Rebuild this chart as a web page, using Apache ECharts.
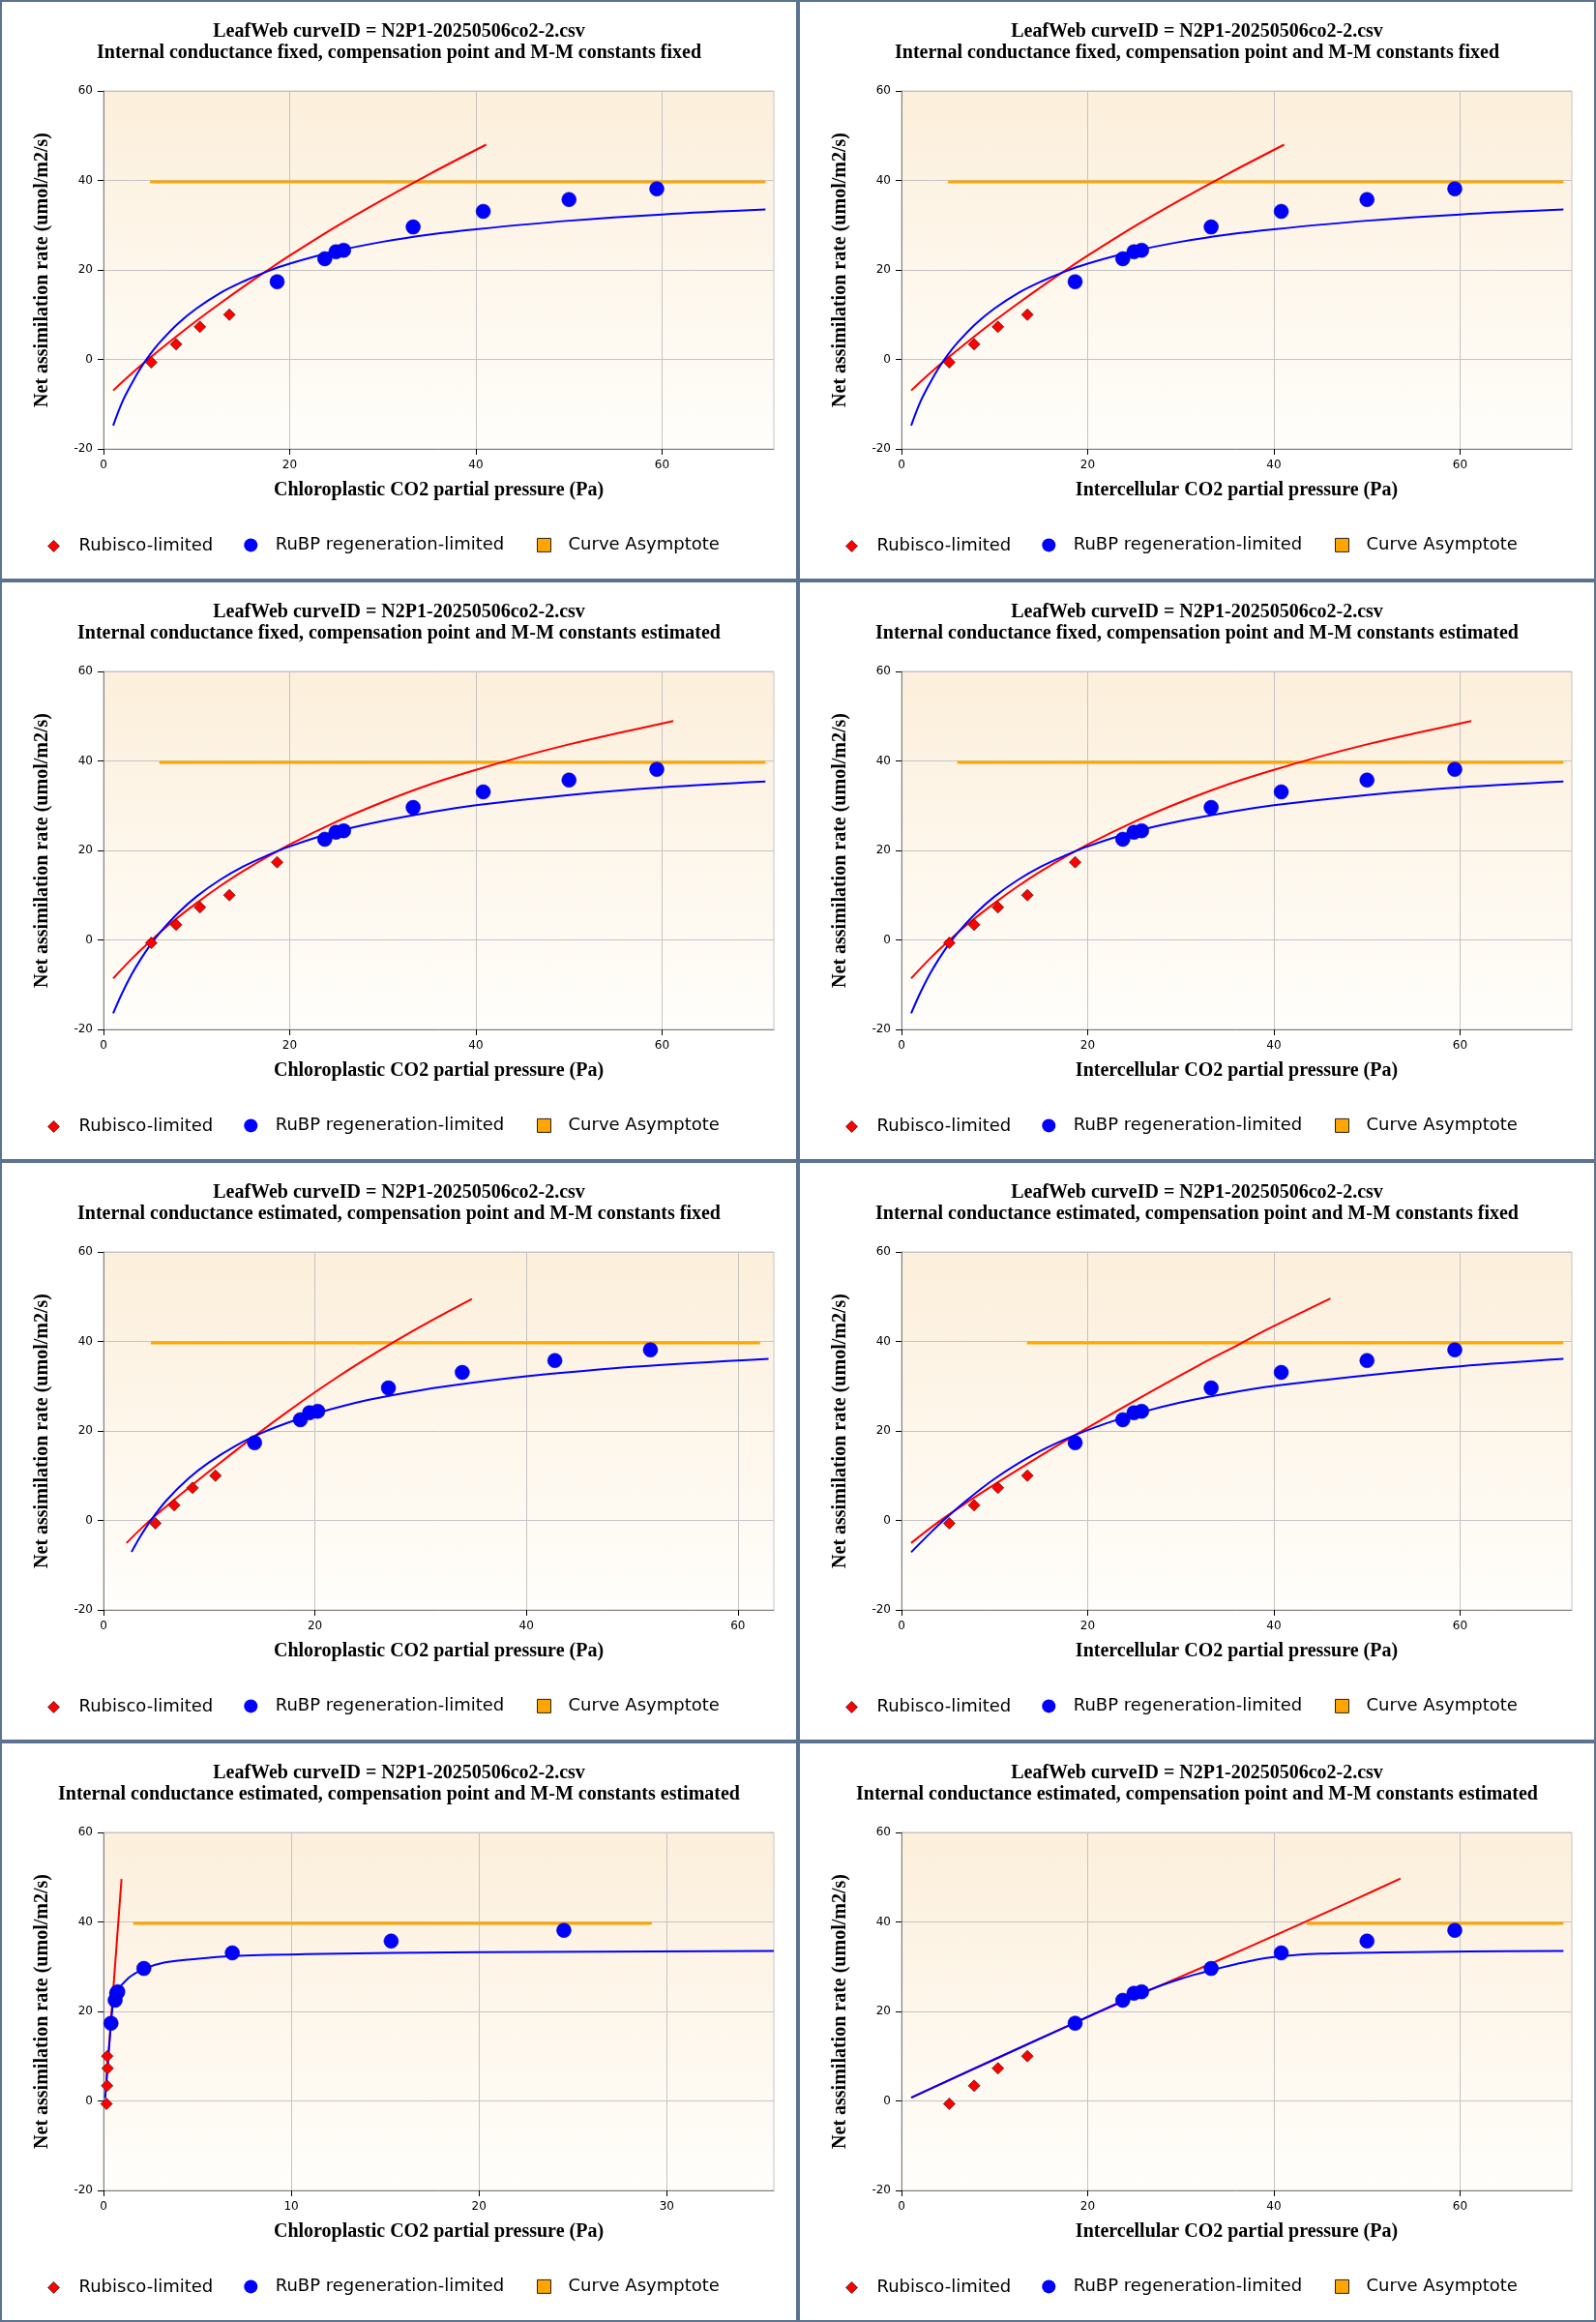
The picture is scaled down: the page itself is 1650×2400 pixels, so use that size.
<!DOCTYPE html>
<html>
<head>
<meta charset="utf-8">
<title>LeafWeb A/C fits</title>
<script src="https://cdn.jsdelivr.net/npm/echarts@6/dist/echarts.min.js"></script>
<style>
    body { margin: 0; background: #fff; }
    #wrap { width: 1650px; height: 2400px; }
    .panel { float: left; width: 825px; height: 600px; box-sizing: border-box; border: 2px solid #5b7391; }
</style>
</head>
<body>
<div id="wrap"></div>
<script type="text/javascript">
    // measured points (same file in every panel)
    var ciPts = [5.13, 7.8, 10.36, 13.52, 18.65, 23.77, 24.97, 25.79, 33.26, 40.79, 50.0, 59.43];
    var ccEstFixPts = [4.91, 6.69, 8.42, 10.59, 14.29, 18.62, 19.49, 20.26, 26.95, 33.93, 42.69, 51.73];
    var ccEstEstPts = [0.16, 0.19, 0.22, 0.2, 0.40, 0.62, 0.70, 0.76, 2.15, 6.86, 15.32, 24.52];
    var aPts = [-0.66, 3.39, 7.28, 10.0, 17.37, 22.5, 24.07, 24.4, 29.6, 33.08, 35.73, 38.13];

    // fitted curves, [x, A]
    var fixFixRub = [[1.04, -6.95], [3, -3.2], [5, 0.36], [7.5, 4.6], [10, 8.65], [12.5, 12.5], [15, 16.2],
        [17.5, 19.75], [20, 23.2], [25, 29.7], [30, 35.7], [35, 41.4], [41.1, 48.0]];
    var fixFixRubp = [[1.04, -14.8], [2, -9.6], [3, -5.5], [4, -1.9], [5, 1.1], [6, 3.7], [8, 8.0], [10, 11.4],
        [12.5, 14.8], [15, 17.4], [17.5, 19.6], [20, 21.4], [25, 24.2], [30, 26.3], [35, 27.9], [40, 29.1],
        [50, 31.0], [60, 32.4], [71.1, 33.5]];
    var fixEstRub = [[1.04, -8.6], [3, -4.3], [5, -0.34], [7.5, 4.2], [10, 8.25], [12.5, 12.0], [15, 15.4],
        [20, 21.3], [25, 26.4], [30, 30.8], [35, 34.7], [40, 38.0], [45, 41.0], [50, 43.7], [55, 46.1], [61.2, 48.9]];
    var fixEstRubp = [[1.04, -16.4], [2, -11.9], [3, -7.8], [4, -4.3], [5, -1.2], [6, 1.5], [8, 6.0], [10, 9.7],
        [12.5, 13.4], [15, 16.4], [17.5, 18.8], [20, 20.9], [25, 24.2], [30, 26.6], [35, 28.5], [40, 30.1],
        [50, 32.4], [60, 34.1], [71.1, 35.4]];
    var estFixCcRub = [[2.17, -5.05], [4, -0.84], [6, 3.26], [8, 7.16], [10, 10.96], [12, 14.68], [14, 18.32],
        [16, 21.86], [18, 25.3], [20, 28.64], [22, 31.84], [24, 34.9], [26, 37.82], [28, 40.62], [30, 43.32],
        [32, 45.92], [34.84, 49.47]];
    var estFixCcRubp = [[2.65, -7.05], [3.5, -3.5], [4.5, 0.1], [6, 4.6], [8, 9.3], [10, 13.0], [12.5, 16.7],
        [15, 19.6], [17.5, 21.9], [20, 23.85], [25, 26.9], [30, 29.1], [35, 30.8], [40, 32.2], [50, 34.3], [62.9, 36.1]];
    var estFixCiRub = [[1.04, -5.05], [4, -0.31], [8, 5.37], [12, 10.69], [18, 18.31], [25, 26.7], [32, 34.75],
        [36.4, 39.5], [39, 42.4], [46.07, 49.6]];
    var estFixCiRubp = [[1.04, -7.1], [3, -3.0], [4.5, 0], [7, 4.5], [10, 9.3], [14, 14.5], [18, 18.5], [22, 21.7],
        [26, 24.3], [30, 26.4], [35, 28.4], [40, 30.05], [50, 32.45], [60, 34.45], [71.1, 36.1]];
    var estEstCcRub = [[0.12, 2.6], [0.4, 18.2], [0.96, 49.6]];
    var estEstCcRubp = [[0.09, 0.6], [0.4, 17.3], [0.52, 22.1], [0.69, 24.3], [1.34, 27.5], [2.15, 29.5],
        [3.23, 30.9], [4.78, 31.7], [6.84, 32.4], [10.77, 32.8], [20, 33.25], [35.7, 33.5]];
    var estEstCiRub = [[1.04, 0.74], [10, 9.3], [17.2, 16.15], [25, 23.3], [33.15, 30.6], [41, 37.8], [49.2, 45.5], [53.6, 49.7]];
    var estEstCiRubp = [[1.04, 0.74], [10, 9.3], [18.65, 17.5], [23.7, 22.3], [26, 24.3], [28, 25.9], [30, 27.3],
        [32, 28.5], [34, 29.6], [36, 30.6], [38, 31.5], [40, 32.15], [42, 32.55], [45, 32.9], [52, 33.2], [61, 33.4], [71.1, 33.5]];

    var asymA = 39.7;
    var fileTitle = 'LeafWeb curveID = N2P1-20250506co2-2.csv';
    var ccName = 'Chloroplastic CO2 partial pressure (Pa)';
    var ciName = 'Intercellular CO2 partial pressure (Pa)';
    var fitFixFix = 'Internal conductance fixed, compensation point and M-M constants fixed';
    var fitFixEst = 'Internal conductance fixed, compensation point and M-M constants estimated';
    var fitEstFix = 'Internal conductance estimated, compensation point and M-M constants fixed';
    var fitEstEst = 'Internal conductance estimated, compensation point and M-M constants estimated';

    // one entry per panel, left to right, top to bottom
    var panels = [
        {sub: fitFixFix, xName: ccName, x: ciPts, nRub: 4, rub: fixFixRub, rubp: fixFixRubp, asym: [5.0, 71.1], xMax: 72, step: 20},
        {sub: fitFixFix, xName: ciName, x: ciPts, nRub: 4, rub: fixFixRub, rubp: fixFixRubp, asym: [5.0, 71.1], xMax: 72, step: 20},
        {sub: fitFixEst, xName: ccName, x: ciPts, nRub: 5, rub: fixEstRub, rubp: fixEstRubp, asym: [6.0, 71.1], xMax: 72, step: 20},
        {sub: fitFixEst, xName: ciName, x: ciPts, nRub: 5, rub: fixEstRub, rubp: fixEstRubp, asym: [6.0, 71.1], xMax: 72, step: 20},
        {sub: fitEstFix, xName: ccName, x: ccEstFixPts, nRub: 4, rub: estFixCcRub, rubp: estFixCcRubp, asym: [4.48, 62.1], xMax: 63.4, step: 20},
        {sub: fitEstFix, xName: ciName, x: ciPts, nRub: 4, rub: estFixCiRub, rubp: estFixCiRubp, asym: [13.47, 71.1], xMax: 72, step: 20},
        {sub: fitEstEst, xName: ccName, x: ccEstEstPts, nRub: 4, rub: estEstCcRub, rubp: estEstCcRubp, asym: [1.58, 29.2], xMax: 35.7, step: 10},
        {sub: fitEstEst, xName: ciName, x: ciPts, nRub: 4, rub: estEstCiRub, rubp: estEstCiRubp, asym: [43.5, 71.1], xMax: 72, step: 20}
    ];

    var serif = 'Liberation Serif, Times New Roman, serif';
    var sans = 'DejaVu Sans, Verdana, sans-serif';

    function legendBox(name, icon, left, top, size, style, pad) {
        return {
            data: [{name: name, icon: icon}],
            left: left, top: top, padding: 0,
            itemWidth: size, itemHeight: size,
            selectedMode: false,
            itemStyle: style,
            textStyle: {fontFamily: sans, fontSize: 18, color: '#000', padding: [0, 0, 0, pad]}
        };
    }

    var wrap = document.getElementById('wrap');
    panels.forEach(function (p) {
        var el = document.createElement('div');
        el.className = 'panel';
        wrap.appendChild(el);
        var chart = echarts.init(el);

        var rubData = [], rubpData = [];
        for (var i = 0; i < p.x.length; i++) {
            if (i < p.nRub) rubData.push([p.x[i], aPts[i]]);
            else rubpData.push([p.x[i], aPts[i]]);
        }
        var ticks = [];
        for (var t = 0; t <= p.xMax; t += p.step) ticks.push(t);

        var option = {
            animation: false,
            title: {
                text: fileTitle + '\n' + p.sub,
                left: 'center', top: 14.5,
                textStyle: {fontFamily: serif, fontWeight: 'bold', fontSize: 20, lineHeight: 22, color: '#000'}
            },
            legend: [
                legendBox('Rubisco-limited', 'diamond', 47, 553.4, 12,
                    {color: '#ff0000', borderColor: '#6a2a2a', borderWidth: 1}, 15),
                legendBox('RuBP regeneration-limited', 'circle', 250.3, 552.4, 14,
                    {color: '#0000ff', borderWidth: 0}, 13.4),
                legendBox('Curve Asymptote', 'rect', 553, 552.4, 14,
                    {color: '#ffa500', borderColor: '#222', borderWidth: 1}, 13)
            ],
            grid: {
                left: 105, top: 92, right: 23, bottom: 134,
                show: true,
                borderColor: '#c4c4c4', borderWidth: 1,
                backgroundColor: {
                    type: 'linear', x: 0, y: 0, x2: 0, y2: 1,
                    colorStops: [{offset: 0, color: '#fcefdb'}, {offset: 1, color: '#fffefb'}]
                }
            },
            xAxis: {
                type: 'value', min: 0, max: p.xMax, interval: p.step,
                name: p.xName, nameLocation: 'middle', nameGap: 33,
                nameTextStyle: {fontFamily: serif, fontWeight: 'bold', fontSize: 20, color: '#000'},
                axisLine: {show: true, onZero: false, lineStyle: {color: '#808080'}},
                axisTick: {show: true, length: 6, customValues: ticks, lineStyle: {color: '#000'}},
                axisLabel: {fontFamily: sans, fontSize: 12, color: '#000', margin: 11, customValues: ticks},
                splitLine: {show: true, lineStyle: {color: '#c4c4c4'}}
            },
            yAxis: {
                type: 'value', min: -20, max: 60, interval: 20,
                name: 'Net assimilation rate (umol/m2/s)', nameLocation: 'middle', nameGap: 53,
                nameTextStyle: {fontFamily: serif, fontWeight: 'bold', fontSize: 20, color: '#000'},
                axisLine: {show: true, onZero: false, lineStyle: {color: '#808080'}},
                axisTick: {show: true, length: 6, lineStyle: {color: '#000'}},
                axisLabel: {fontFamily: sans, fontSize: 12, color: '#000', margin: 11},
                splitLine: {show: true, lineStyle: {color: '#c4c4c4'}}
            },
            series: [
                {
                    name: 'Curve Asymptote', type: 'line', z: 2,
                    data: [[p.asym[0], asymA], [p.asym[1], asymA]],
                    showSymbol: false, lineStyle: {color: '#ffa500', width: 3}, itemStyle: {color: '#ffa500'}
                },
                {
                    name: 'rubFit', type: 'line', z: 3, data: p.rub,
                    smooth: 0.35, showSymbol: false,
                    lineStyle: {color: '#ff0000', width: 2}
                },
                {
                    name: 'rubpFit', type: 'line', z: 4, data: p.rubp,
                    smooth: 0.35, showSymbol: false,
                    lineStyle: {color: '#0000ff', width: 2}
                },
                {
                    name: 'Rubisco-limited', type: 'scatter', z: 5, data: rubData,
                    symbol: 'diamond', symbolSize: 12,
                    itemStyle: {color: '#ff0000', borderColor: 'rgba(90,20,20,0.8)', borderWidth: 1, opacity: 1}
                },
                {
                    name: 'RuBP regeneration-limited', type: 'scatter', z: 5, data: rubpData,
                    symbol: 'circle', symbolSize: 15,
                    itemStyle: {color: '#0000ff', borderColor: '#0000b0', borderWidth: 0.5, opacity: 1}
                }
            ]
        };

        chart.setOption(option);
    });
</script>
</body>
</html>
